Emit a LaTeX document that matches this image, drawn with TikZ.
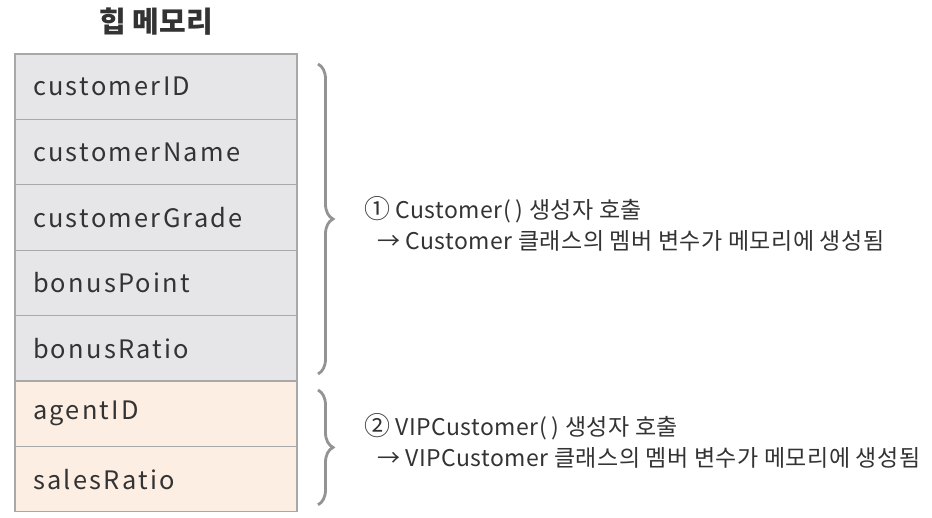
\documentclass[tikz,border=0pt]{standalone}
\usepackage{fontspec}
\setmainfont{Noto Sans CJK KR}
\newfontfamily\cellfont{Noto Sans CJK KR}[LetterSpace=9]
\newfontfamily\notefont{Noto Sans CJK KR}[LetterSpace=2]
\usetikzlibrary{positioning}
\usetikzlibrary{calc}
\usetikzlibrary{decorations.pathreplacing}
\definecolor{cellgray}{HTML}{E6E6E8}
\definecolor{cellpeach}{HTML}{FDEEE3}
\definecolor{linegray}{HTML}{A8A8A8}
\definecolor{textgray}{HTML}{333333}
\newcommand{\bignum}[1]{{\fontsize{13}{15}\selectfont #1}}

\begin{document}
\begin{tikzpicture}[node distance=0pt,text=textgray,
every node/.style={inner sep=0pt,outer sep=0pt}]
\tikzstyle{field}=[draw=linegray,line width=0.6pt,minimum width=141pt,minimum height=32.7pt,
text width=123pt,align=left,font=\cellfont\fontsize{12.7}{15}\selectfont]
\tikzstyle{parent}=[field,fill=cellgray]
\tikzstyle{child}=[field,fill=cellpeach]
\tikzstyle{curly}=[draw=gray!85,line width=1.4pt,decorate,decoration={brace,amplitude=7.5pt}]
\tikzstyle{note}=[align=left,font=\notefont\fontsize{11.5}{15.5}\selectfont]

\useasboundingbox (0,0) rectangle (466pt,-259pt);

\node[parent,anchor=north west] (id) at (7.5pt,-27pt) {customerID};
\node[parent] (name)  [below=of id]    {customerName};
\node[parent] (grade) [below=of name]  {customerGrade};
\node[parent] (bonus) [below=of grade] {bonusPoint};
\node[parent] (ratio) [below=of bonus] {bonusRatio};
\node[child]  (agent) [below=of ratio] {agentID};
\node[child]  (sales) [below=of agent] {salesRatio};

\node[font=\fontsize{14.5}{17}\selectfont\bfseries] (heap) at (78pt,-11pt) {힙 메모리};

\coordinate (top1) at ([xshift=10.5pt,yshift=-5pt]id.north east);
\coordinate (bot1) at ([xshift=10.5pt,yshift=3.5pt]ratio.south east);
\coordinate (top2) at ([xshift=10.5pt,yshift=-4.5pt]agent.north east);
\coordinate (bot2) at ([xshift=10.5pt,yshift=3.5pt]sales.south east);
\coordinate (tip1) at ($(top1)!0.5!(bot1)+(7.5pt,0)$);
\coordinate (tip2) at ($(top2)!0.5!(bot2)+(7.5pt,0)$);

\draw[curly] (top1) -- (bot1);
\draw[curly] (top2) -- (bot2);

\node[note,anchor=west] (step1) [right=15.5pt of tip1,yshift=-2.5pt]
  {\bignum{①} Customer(\hspace{2.5pt}) 생성자 호출\\ \hspace*{6.5pt}→ Customer 클래스의 멤버 변수가 메모리에 생성됨};
\node[note,anchor=west] (step2) [right=15.5pt of tip2,yshift=3pt]
  {\bignum{②} VIPCustomer(\hspace{2.5pt}) 생성자 호출\\ \hspace*{6.5pt}→ VIPCustomer 클래스의 멤버 변수가 메모리에 생성됨};
\end{tikzpicture}
\end{document}
